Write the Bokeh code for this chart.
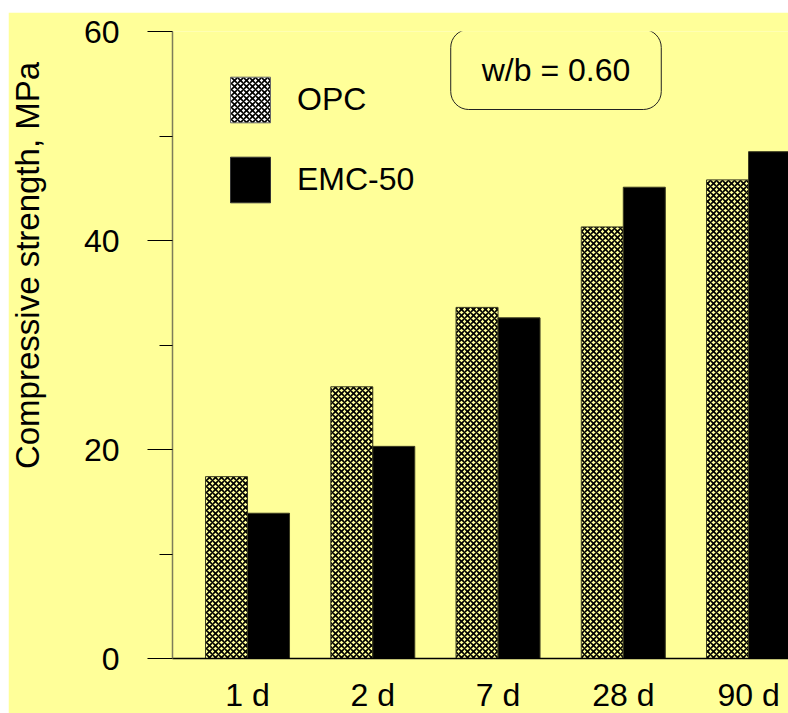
import math
from bokeh.plotting import figure
from bokeh.models import (ColumnDataSource, Range1d, FixedTicker, Legend, LegendItem, Label)
from bokeh.transform import dodge
from bokeh.embed import file_html
from bokeh.resources import INLINE

# ---- data ----
ages = ["1 d", "2 d", "7 d", "28 d", "90 d"]
opc = [17.4, 26.0, 33.6, 41.3, 45.8]
emc = [13.9, 20.3, 32.6, 45.1, 48.5]
y_ticks = [0, 20, 40, 60]
y_minor = [10, 30, 50]
series_names = ["OPC", "EMC-50"]
note_text = "w/b = 0.60"
y_title = "Compressive strength, MPa"

BG = "#FFFF99"
FONT = "Liberation Sans"
FS = "32px"

idx = list(range(len(ages)))
src = ColumnDataSource(data=dict(x=idx, opc=opc, emc=emc))

p = figure(frame_width=616, frame_height=627,
           x_range=Range1d(-0.599, 4.319), y_range=Range1d(0, 60),
           output_backend="svg", toolbar_location=None,
           min_border_left=164, min_border_right=0,
           min_border_top=19, min_border_bottom=55,
           margin=(12, 0, 0, 8))
p.background_fill_color = BG
p.border_fill_color = BG
p.outline_line_color = None
p.xgrid.visible = False
p.ygrid.visible = False

bw = 0.3353
r_opc = p.vbar(x=dodge("x", -bw / 2), top="opc", width=bw, bottom=0, source=src,
               fill_color=BG, hatch_pattern="diagonal_cross", hatch_color="black",
               hatch_scale=6, hatch_weight=1.6,
               line_color="#3a3a20", line_width=1)
r_emc = p.vbar(x=dodge("x", bw / 2), top="emc", width=bw, bottom=0, source=src,
               fill_color="black", line_color="#3a3a20", line_width=1)

# legend swatches (white background for hatched), not drawn in the plot area
nan_src = ColumnDataSource(data=dict(x=[float("nan")], top=[float("nan")]))
l_opc = p.vbar(x="x", top="top", width=0.3, source=nan_src,
               fill_color="white", hatch_pattern="diagonal_cross", hatch_color="black",
               hatch_scale=6, hatch_weight=1.6, line_color="#666666", line_width=1)
l_emc = p.vbar(x="x", top="top", width=0.3, source=nan_src,
               fill_color="black", line_color="#333333", line_width=1)

legend = Legend(items=[LegendItem(label=series_names[0], renderers=[l_opc]),
                       LegendItem(label=series_names[1], renderers=[l_emc])],
                location=(53, 450), padding=0, margin=0, spacing=23,
                glyph_width=50, glyph_height=57, label_height=57, label_standoff=22,
                border_line_color=None, background_fill_alpha=0,
                label_text_font=FONT, label_text_font_size=FS, label_text_color="black")
p.add_layout(legend)

# axes
yax = p.yaxis[0]
yax.ticker = FixedTicker(ticks=y_ticks, minor_ticks=y_minor)
yax.axis_line_color = "#7d7d5a"
yax.axis_line_width = 1.5
yax.major_tick_out = 25
yax.major_tick_in = 0
yax.minor_tick_out = 13
yax.minor_tick_in = 0
yax.major_tick_line_color = "black"
yax.minor_tick_line_color = "black"
yax.major_label_standoff = 28
yax.major_label_text_font = FONT
yax.major_label_text_font_size = FS
yax.major_label_text_color = "black"

xax = p.xaxis[0]
xax.ticker = FixedTicker(ticks=idx, minor_ticks=[])
xax.major_label_overrides = {i: a for i, a in zip(idx, ages)}
xax.axis_line_color = "black"
xax.axis_line_width = 1.5
xax.major_tick_line_color = None
xax.minor_tick_line_color = None
xax.major_tick_out = 0
xax.major_tick_in = 0
xax.major_label_standoff = 18
xax.major_label_text_font = FONT
xax.major_label_text_font_size = FS
xax.major_label_text_color = "black"

# y title placed in the left side panel
p.add_layout(Label(x=-16, y=393, x_units="screen", y_units="screen", text=y_title,
                   angle=math.pi / 2, text_align="center", text_baseline="middle",
                   text_font=FONT, text_font_size="33px", text_color="black"), "left")

# note box
p.add_layout(Label(x=383.5, y=589, x_units="screen", y_units="screen", text=note_text,
                   text_align="center", text_baseline="middle",
                   text_font=FONT, text_font_size=FS, text_color="black",
                   padding=dict(left=31, right=31, top=22, bottom=22), border_radius=18,
                   border_line_color="#222222", border_line_width=1,
                   background_fill_color=BG))

open("out.html", "w").write(file_html(p, INLINE))
